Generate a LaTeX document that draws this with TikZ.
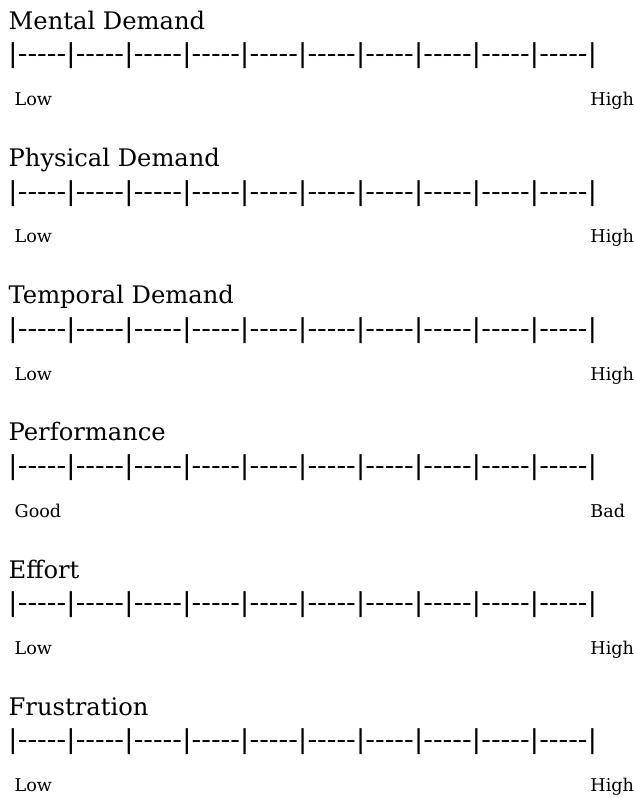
\documentclass[tikz,border=0pt]{standalone}
\usepackage{fontspec}
\usepackage{graphicx}
\newfontfamily\djs{DejaVu Serif}
\def\tlxseg{|-\kern0pt-\kern0pt-\kern0pt-\kern0pt-}
\newcommand\tlxbar{\tlxseg\tlxseg\tlxseg\tlxseg\tlxseg\tlxseg\tlxseg\tlxseg\tlxseg\tlxseg|}
\tikzset{
  ttl/.style={anchor=base west, inner sep=0pt, font=\djs\fontsize{24.2}{29}\selectfont},
  lowlab/.style={anchor=base west, inner sep=0pt, font=\djs\fontsize{17.6}{21}\selectfont},
  highlab/.style={anchor=base west, inner sep=0pt, font=\djs\fontsize{17.6}{21}\selectfont},
  scalebar/.style={anchor=south west, inner sep=0pt, font=\djs\fontsize{28}{30}\selectfont}
}
\begin{document}
\begin{tikzpicture}[x=1pt,y=-1pt]
\useasboundingbox[fill=white] (0,0) rectangle (636,798);
\foreach \t/\lo/\hi [count=\k from 0] in {Mental Demand/Low/High, Physical Demand/Low/High, Temporal Demand/Low/High, Performance/Good/Bad, Effort/Low/High, Frustration/Low/High}{
  \pgfmathsetmacro\dy{137.2*\k}
  \node[ttl] (title\k) at (8.5,29.3+\dy) {\t};
  \node[scalebar] (bar\k) at (8.05,69.3+\dy) {\resizebox*{588.8pt}{26pt}{\djs\tlxbar}};
  \node[lowlab] (low\k) at (14.5,105.7+\dy) {\lo};
  \node[highlab] (high\k) at (590.2,105.7+\dy) {\hi};
}
\end{tikzpicture}
\end{document}
